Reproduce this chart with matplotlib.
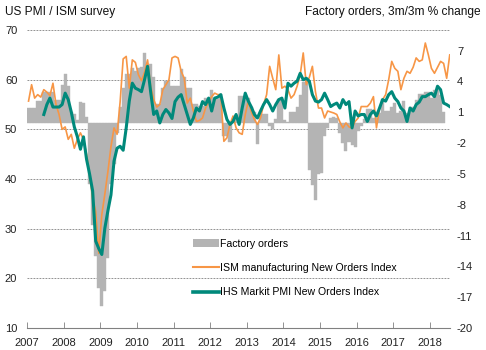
##
# US PMI / ISM new orders vs factory orders
##
import numpy as np
import matplotlib
matplotlib.use("Agg")
import matplotlib.pyplot as plt
from matplotlib.patches import Patch
from matplotlib.lines import Line2D

plt.rcParams['font.family'] = ['Liberation Sans', 'DejaVu Sans']
plt.rcParams['axes.unicode_minus'] = False

# monthly data, Jan 2007 .. Jul 2018
ism_new_orders = [
    55.7, 59.0, 56.3, 57.0, 56.5, 58.0, 57.5, 56.8, 59.3, 55.0, 53.0, 50.0,   # 2007
    50.5, 48.0, 49.0, 46.2, 48.0, 49.3, 48.0, 45.0, 41.0, 36.0, 33.5, 25.0,   # 2008
    32.8, 37.0, 41.5, 46.5, 50.3, 49.0, 55.5, 64.2, 64.7, 58.3, 64.0, 63.5,   # 2009
    61.0, 59.8, 61.5, 64.0, 58.7, 56.0, 54.5, 55.0, 58.0, 59.0, 60.0, 64.4,   # 2010
    64.7, 64.4, 61.7, 60.3, 55.3, 56.3, 53.7, 51.6, 51.8, 52.3, 54.3, 55.5,   # 2011
    56.6, 57.3, 57.0, 57.0, 47.6, 48.3, 51.0, 52.7, 50.3, 49.3, 49.0, 53.0,   # 2012
    55.7, 53.5, 52.0, 51.0, 52.3, 55.0, 57.0, 62.7, 60.3, 58.0, 65.0, 58.3,   # 2013
    58.7, 58.0, 56.3, 57.0, 58.7, 61.0, 65.4, 59.0, 60.5, 62.7, 57.6, 54.3,   # 2014
    54.3, 52.3, 53.7, 53.5, 53.3, 53.0, 51.5, 50.3, 51.3, 50.5, 50.3, 51.6,   # 2015
    52.3, 54.6, 54.6, 54.6, 55.3, 56.6, 50.3, 54.3, 56.0, 57.0, 60.0, 63.7,   # 2016
    62.3, 61.7, 58.0, 60.3, 61.7, 61.3, 62.5, 64.4, 63.7, 64.0, 67.4, 65.0,   # 2017
    62.3, 61.3, 62.5, 63.7, 63.3, 60.3, 65.0,                                 # 2018
]

# IHS Markit series starts Jun 2007
markit_start = 5
markit_new_orders = [
    53.0, 55.0, 56.3, 54.5, 54.5, 54.5, 55.0,                                 # 2007
    57.3, 56.0, 53.5, 50.5, 48.5, 46.0, 48.5, 44.0, 41.0, 37.6, 27.5, 26.0,   # 2008
    24.8, 30.1, 33.6, 36.8, 43.6, 46.2, 46.6, 45.8, 50.3, 55.7, 59.3, 58.3,   # 2009
    58.0, 57.6, 60.0, 62.7, 57.6, 53.0, 53.7, 51.3, 53.0, 54.0, 53.3, 52.2,   # 2010
    55.6, 56.5, 57.0, 55.0, 53.0, 51.0, 52.3, 54.3, 53.7, 55.6, 55.0, 56.3,   # 2011
    53.7, 56.3, 56.5, 57.0, 54.3, 52.0, 51.0, 51.6, 53.0, 51.0, 54.3, 57.3,   # 2012
    55.7, 54.5, 53.0, 52.3, 53.7, 55.0, 56.0, 55.0, 53.7, 55.0, 56.0, 56.3,   # 2013
    54.3, 59.3, 58.7, 59.3, 59.7, 61.3, 60.0, 60.3, 59.7, 57.0, 55.7, 55.5,   # 2014
    56.0, 57.3, 56.0, 54.6, 55.0, 55.3, 54.3, 56.0, 55.0, 55.6, 50.3, 53.7,   # 2015
    52.7, 53.0, 53.0, 51.6, 53.0, 53.7, 52.7, 54.3, 56.0, 55.7, 57.0, 57.6,   # 2016
    56.3, 55.6, 54.3, 53.7, 51.6, 54.3, 53.7, 55.0, 55.5, 56.6, 56.6, 57.0,   # 2017
    57.3, 56.6, 58.7, 58.0, 55.3, 55.0, 54.6,                                 # 2018
]

# factory orders, 3m/3m % change, Jan 2007 .. May 2018
factory_orders = [
    1.4, 1.4, 1.4, 2.1, 2.1, 3.0, 3.0, 3.0, 3.0, 2.2, 2.2, 3.7,               # 2007
    4.7, 3.6, 1.0, 0.8, 0.2, 2.0, 1.9, 0.5, -6.0, -10.0, -13.0, -16.1,        # 2008
    -17.9, -16.4, -13.2, -6.0, -4.0, -1.0, 1.5, 3.4, 4.7, 4.7, 5.3, 5.0,      # 2009
    5.3, 5.4, 6.8, 5.7, 5.7, 4.4, 1.8, 1.8, 3.4, 4.0, 4.0, 3.6,               # 2010
    3.6, 3.6, 5.2, 4.4, 3.4, 3.4, 1.8, 1.8, 1.6, 1.6, 2.4, 2.4,               # 2011
    3.2, 2.3, 2.3, 2.8, -1.3, -1.3, -1.9, 0.3, 0.5, 2.6, 2.6, 2.6,            # 2012
    2.4, 1.5, 1.0, -2.1, 0.8, 0.8, 0.8, -0.3, -0.6, 0.3, 2.3, 2.3,            # 2013
    0.2, 0.1, 1.0, 1.0, 1.5, 2.7, 3.9, 4.2, -4.6, -6.1, -7.5, -5.0,           # 2014
    -4.9, -1.3, -0.5, 0.4, 0.5, 0.4, -1.0, -2.0, -2.8, -1.9, -2.2, -2.4,      # 2015
    -0.8, -0.3, 0.3, 1.3, 1.3, 0.4, 0.4, 0.9, 2.3, 1.1, 1.1, 1.5,             # 2016
    1.9, 0.9, 1.1, 2.1, 0.9, 1.5, 1.5, 2.2, 2.8, 2.8, 3.0, 3.0,               # 2017
    2.4, 3.2, 3.2, 2.7, 1.0,                                                  # 2018
]

years = list(range(2007, 2019))
left_ticks = [10, 20, 30, 40, 50, 60, 70]
right_ticks = [7, 4, 1, -2, -5, -8, -11, -14, -17, -20]

ORANGE = '#f79646'
TEAL = '#00897b'
GREY_BAR = '#b4b4b4'


def month_pos(n, start=0):
    return 2007 + (np.arange(start, start + n) + 0.5) / 12.0


def main():
    fig = plt.figure(figsize=(4.86, 3.5), dpi=100)
    ax = fig.add_axes([0.0556, 0.063, 0.8704, 0.851])
    ax2 = ax.twinx()

    # lines above bars
    ax.set_zorder(ax2.get_zorder() + 1)
    ax.patch.set_visible(False)

    x_end = 2007 + 138.6 / 12.0
    ax.set_xlim(2007, x_end)
    ax.set_ylim(10, 70)
    ax2.set_ylim(-20, 9)

    # gridlines (left scale) drawn behind the bars
    for v in left_ticks[1:]:
        ax2.plot([2007, x_end], [v, v], transform=ax.transData,
                 color='#808080', lw=0.6, dashes=(2.2, 1.4), zorder=0)

    ax2.bar(month_pos(len(factory_orders)), factory_orders, width=1 / 12.0,
            color=GREY_BAR, edgecolor=GREY_BAR, linewidth=0.3, zorder=1)

    ax.plot(month_pos(len(ism_new_orders)), ism_new_orders,
            color=ORANGE, lw=1.2, zorder=3)
    ax.plot(month_pos(len(markit_new_orders), markit_start), markit_new_orders,
            color=TEAL, lw=2.2, zorder=4, solid_joinstyle='round')

    # axes styling
    for a in (ax, ax2):
        for s in ('top', 'left', 'right'):
            a.spines[s].set_visible(False)
    ax.spines['bottom'].set_color('#808080')
    ax.spines['bottom'].set_linewidth(0.8)
    ax2.spines['bottom'].set_visible(False)

    ax.set_xticks(years)
    ax.set_xticklabels([str(y) for y in years])
    ax.tick_params(axis='x', direction='in', length=4, width=0.6,
                   color='#808080', labelsize=8, pad=7, labelcolor='#222222')

    ax.set_yticks(left_ticks)
    ax.tick_params(axis='y', length=0, labelsize=8, pad=7, labelcolor='#222222')

    ax2.set_yticks(right_ticks)
    ax2.tick_params(axis='y', length=0, labelsize=8, pad=5, labelcolor='#222222')

    fig.text(5 / 486, 1 - 12 / 350, 'US PMI / ISM survey', fontsize=8.6,
             ha='left', va='center', color='#111111')
    fig.text(481 / 486, 1 - 12 / 350, 'Factory orders, 3m/3m % change',
             fontsize=8.6, ha='right', va='center', color='#111111')

    handles = [
        Patch(facecolor=GREY_BAR, edgecolor='none'),
        Line2D([], [], color=ORANGE, lw=1.5),
        Line2D([], [], color=TEAL, lw=2.6),
    ]
    labels = ['Factory orders', 'ISM manufacturing New Orders Index',
              'IHS Markit PMI New Orders Index']
    ax.legend(handles, labels, loc='center left', bbox_to_anchor=(0.392, 0.201),
              frameon=False, fontsize=7.6, handlelength=2.45, handletextpad=0.15,
              labelspacing=1.35, borderpad=0, borderaxespad=0)

    fig.savefig('out.png', dpi=100)


if __name__ == '__main__':
    main()
